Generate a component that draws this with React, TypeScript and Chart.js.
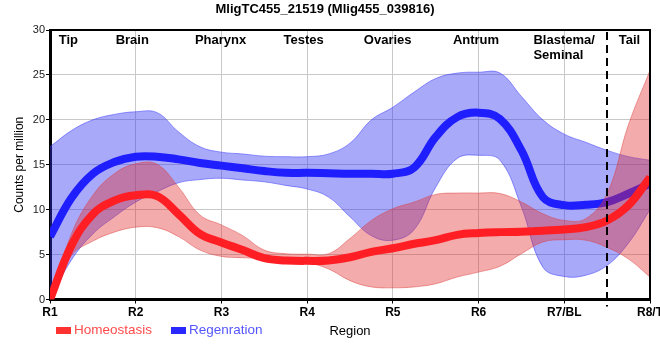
import React, { useEffect, useRef } from "react";
import { Chart, registerables } from "chart.js";

Chart.register(...registerables);

// ---------- data ----------
const TITLE = "MligTC455_21519 (Mlig455_039816)";
const CATEGORIES = ["R1", "R2", "R3", "R4", "R5", "R6", "R7/BL", "R8/T"];
const REGION_NAMES: (string | string[])[] = ["Tip", "Brain", "Pharynx", "Testes", "Ovaries", "Antrum", ["Blastema/", "Seminal"], "Tail"];
const REGION_NAME_POS = [1.215, 1.96, 2.99, 3.96, 4.94, 5.97, 6.64, 7.76];
const TAIL_BOUNDARY = 7.5;

// sample positions along the region axis (1 = R1 ... 8 = R8/T)
const XS = [1, 1.25, 1.5, 1.75, 2, 2.25, 2.5, 2.75, 3, 3.25, 3.5, 3.75, 4, 4.25, 4.5, 4.75, 5, 5.25, 5.5, 5.75, 6, 6.25, 6.5, 6.75, 7, 7.25, 7.5, 7.75, 8];

const HOMEO_MEAN = [0, 6.0, 9.5, 11.0, 11.6, 11.5, 9.5, 7.3, 6.35, 5.5, 4.6, 4.35, 4.3, 4.35, 4.7, 5.3, 5.7, 6.2, 6.6, 7.2, 7.4, 7.5, 7.55, 7.65, 7.8, 8.05, 8.8, 10.5, 13.6];
const HOMEO_UPPER = [0, 7.3, 11.6, 14.0, 15.1, 15.05, 12.5, 9.4, 8.3, 7.1, 5.5, 5.1, 5.05, 5.1, 6.8, 8.8, 10.1, 10.85, 11.7, 11.85, 11.85, 11.8, 10.85, 9.55, 8.8, 9.0, 11.8, 19.5, 25.5];
const HOMEO_LOWER = [0, 4.9, 6.5, 7.5, 8.05, 8.0, 7.0, 5.5, 4.8, 4.65, 4.55, 4.35, 4.1, 3.4, 2.1, 1.4, 1.3, 1.4, 1.75, 2.5, 3.05, 3.7, 5.1, 6.4, 6.65, 6.6, 5.8, 4.5, 2.5];

const REGEN_MEAN = [7.0, 11.3, 14.0, 15.3, 15.9, 15.9, 15.6, 15.2, 14.9, 14.6, 14.3, 14.1, 14.1, 14.05, 14.0, 14.0, 14.0, 14.7, 18.1, 20.3, 20.8, 20.1, 16.6, 11.4, 10.5, 10.55, 10.85, 11.8, 12.9];
const REGEN_UPPER = [17.0, 18.8, 20.0, 20.6, 20.9, 20.8, 18.65, 17.0, 16.4, 16.2, 15.95, 15.9, 15.9, 16.2, 17.4, 20.0, 21.4, 23.1, 24.6, 25.2, 25.3, 25.2, 22.6, 20.0, 18.4, 17.5, 16.6, 15.9, 15.5];
const REGEN_LOWER = [0, 4.4, 7.3, 9.2, 10.85, 12.0, 13.0, 13.35, 13.5, 13.3, 13.1, 12.7, 12.3, 11.4, 9.2, 7.1, 6.6, 7.8, 12.5, 15.7, 16.05, 15.5, 10.3, 3.6, 2.56, 2.7, 3.8, 6.3, 10.0];

const SERIES_NAMES = ["Homeostasis", "Regenration"];

const pts = (ys: number[]) => XS.map((x, i) => ({ x, y: ys[i] }));

const FONT = "'Liberation Sans', Arial, sans-serif";

const overlayPlugin = {
  id: "overlay",
  afterDraw(chart: any) {
    const { ctx, chartArea: a, scales } = chart;
    const xs = scales.x;
    ctx.save();
    // region names
    ctx.fillStyle = "#000";
    ctx.font = `bold 13px ${FONT}`;
    ctx.textBaseline = "alphabetic";
    REGION_NAMES.forEach((n, i) => {
      const px = xs.getPixelForValue(REGION_NAME_POS[i]);
      if (Array.isArray(n)) {
        ctx.textAlign = "left";
        n.forEach((line, j) => ctx.fillText(line, px, a.top + 14 + j * 15.3));
      } else {
        ctx.textAlign = "center";
        ctx.fillText(n, px, a.top + 14);
      }
    });
    // dashed tail boundary
    const bx = Math.round(xs.getPixelForValue(TAIL_BOUNDARY));
    ctx.strokeStyle = "#000";
    ctx.lineWidth = 2;
    ctx.setLineDash([8, 5]);
    ctx.beginPath();
    ctx.moveTo(bx, a.top + 2);
    ctx.lineTo(bx, a.bottom + 7);
    ctx.stroke();
    ctx.setLineDash([]);
    // frame top & right
    ctx.lineWidth = 2;
    ctx.beginPath();
    ctx.moveTo(a.left, a.top);
    ctx.lineTo(a.right, a.top);
    ctx.lineTo(a.right, a.bottom);
    ctx.stroke();
    ctx.restore();
  },
};

export default function App() {
  const ref = useRef<HTMLCanvasElement | null>(null);
  useEffect(() => {
    if (!ref.current) return;
    const blueBand = "rgba(50,50,240,0.42)";
    const blueEdge = "rgba(70,70,255,0.55)";
    const redBand = "rgba(225,45,45,0.40)";
    const redEdge = "rgba(220,60,60,0.45)";
    const common = { pointRadius: 0, tension: 0.4 };
    const chart = new Chart(ref.current, {
      type: "line",
      data: {
        datasets: [
          { label: SERIES_NAMES[0], data: pts(HOMEO_MEAN), borderColor: "rgb(255,30,35)", borderWidth: 8, fill: false, order: 0, ...common },
          { label: "h-up", data: pts(HOMEO_UPPER), borderColor: redEdge, borderWidth: 1, backgroundColor: redBand, fill: 2, order: 1, ...common },
          { label: "h-lo", data: pts(HOMEO_LOWER), borderColor: redEdge, borderWidth: 1, fill: false, order: 1, ...common },
          { label: SERIES_NAMES[1], data: pts(REGEN_MEAN), borderColor: "rgb(30,30,255)", borderWidth: 8, fill: false, order: 2, ...common },
          { label: "r-up", data: pts(REGEN_UPPER), borderColor: blueEdge, borderWidth: 1, backgroundColor: blueBand, fill: 5, order: 3, ...common },
          { label: "r-lo", data: pts(REGEN_LOWER), borderColor: blueEdge, borderWidth: 1, fill: false, order: 3, ...common },
        ],
      },
      options: {
        animation: false,
        responsive: false,
        devicePixelRatio: 1,
        layout: { padding: { left: 0, right: 10, top: 0, bottom: 0 } },
        plugins: {
          legend: { display: false },
          tooltip: { enabled: false },
          title: {
            display: true,
            text: TITLE,
            color: "#000",
            font: { family: FONT, size: 13, weight: "bold" },
            padding: { top: 2, bottom: 12.4 },
          },
        },
        scales: {
          x: {
            type: "linear",
            min: 1,
            max: 8,
            afterFit: (s: any) => {
              s.height = 60.5;
              s.paddingLeft = 0;
              s.paddingRight = 0;
            },
            ticks: {
              stepSize: 1,
              autoSkip: false,
              maxRotation: 0,
              padding: 2,
              color: "#000",
              font: { family: FONT, size: 12, weight: "bold" },
              callback: (v: any) => CATEGORIES[Math.round(Number(v)) - 1] ?? "",
            },
            grid: { color: "#c8c8c8", lineWidth: 1, tickColor: "#000", tickLength: 4 },
            border: { color: "#000", width: 3 },
            title: {
              display: true,
              text: "Region",
              color: "#000",
              font: { family: FONT, size: 13 },
              padding: { top: 0, bottom: 21 },
            },
          },
          y: {
            min: 0,
            max: 30,
            afterFit: (s: any) => {
              s.width = 50;
              s.paddingTop = 0;
              s.paddingBottom = 0;
            },
            ticks: {
              stepSize: 5,
              padding: 1,
              color: "#222",
              font: { family: FONT, size: 11 },
            },
            grid: { color: "#c8c8c8", lineWidth: 1, tickColor: "#000", tickLength: 4 },
            border: { color: "#000", width: 3 },
            title: {
              display: true,
              text: "Counts per million",
              color: "#000",
              font: { family: FONT, size: 12 },
              padding: { top: 12.5, bottom: 0 },
            },
          },
        },
      },
      plugins: [overlayPlugin],
    } as any);
    return () => chart.destroy();
  }, []);

  const legendText = { fontFamily: FONT, fontSize: "13.5px", lineHeight: "14px", position: "absolute" as const, top: 323, whiteSpace: "nowrap" as const };
  return (
    <div style={{ position: "absolute", left: 0, top: 0, width: 660, height: 360, background: "#fff" }}>
      <canvas ref={ref} width={660} height={360} style={{ display: "block", width: 660, height: 360 }} />
      <div style={{ position: "absolute", left: 56, top: 327, width: 15, height: 7, background: "rgb(255,50,50)" }} />
      <div style={{ ...legendText, left: 74, color: "rgb(255,75,75)" }}>{SERIES_NAMES[0]}</div>
      <div style={{ position: "absolute", left: 171, top: 327, width: 15, height: 7, background: "rgb(40,40,255)" }} />
      <div style={{ ...legendText, left: 189, color: "rgb(85,85,255)" }}>{SERIES_NAMES[1]}</div>
    </div>
  );
}
